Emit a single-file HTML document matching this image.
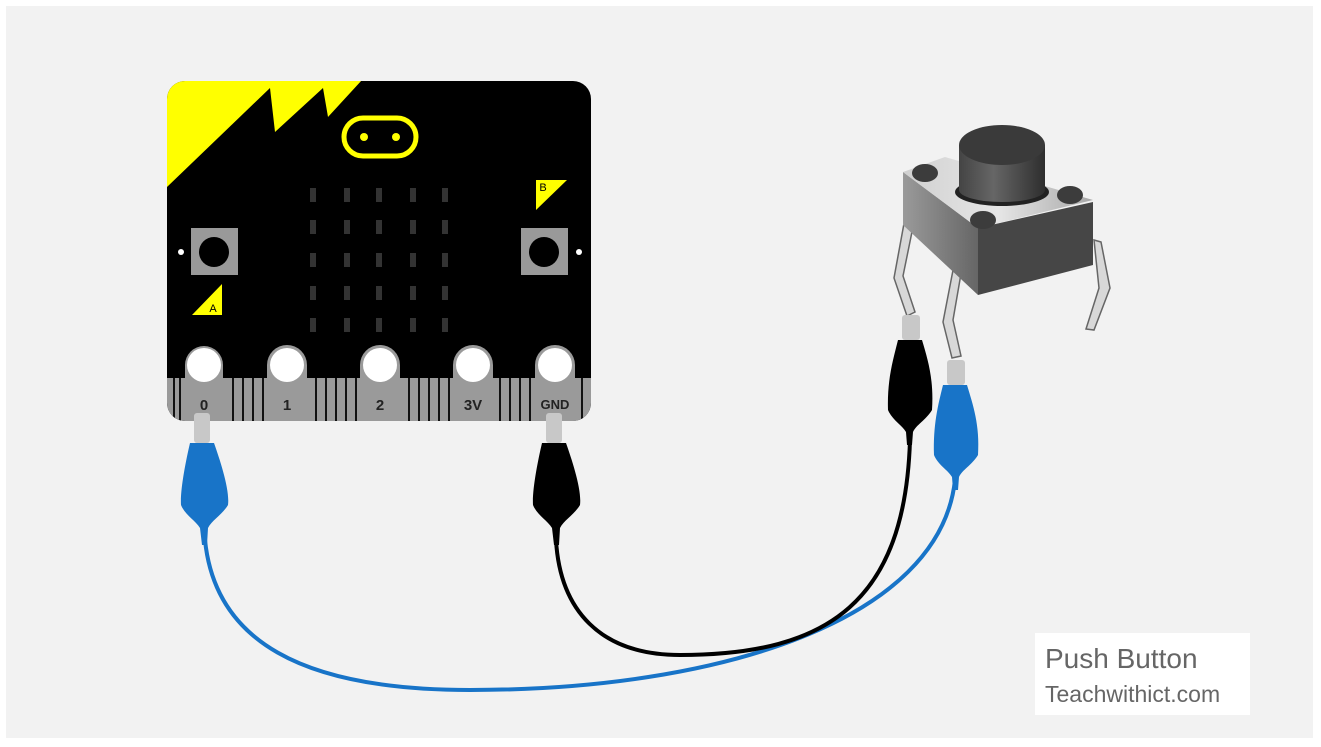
<!DOCTYPE html>
<html><head><meta charset="utf-8"><style>
html,body{margin:0;padding:0;background:#fff;}
svg{display:block;}
</style></head><body>
<svg width="1321" height="747" viewBox="0 0 1321 747" xmlns="http://www.w3.org/2000/svg" font-family="Liberation Sans, sans-serif">
<rect x="0" y="0" width="1321" height="747" fill="#fff"/>
<rect x="6" y="6" width="1307" height="732" fill="#f2f2f2"/>

<!-- wires -->
<path d="M205,540 C215,640 300,690 470,690 C720,690 940,620 955,480" fill="none" stroke="#1874c8" stroke-width="4"/>
<path d="M556,540 C560,610 600,655 680,655 C830,655 905,600 910,440" fill="none" stroke="#000" stroke-width="4"/>

<!-- micro:bit -->
<defs>
<clipPath id="board"><rect x="167" y="81" width="424" height="340" rx="18"/></clipPath>
</defs>
<rect x="167" y="81" width="424" height="340" rx="18" fill="#000"/>
<g clip-path="url(#board)">
<polygon points="167,187 270,88 275,132 323,88 328,117 362,80 167,80" fill="#ffff00"/>
<rect x="167" y="378" width="424" height="45" fill="#9a9a9a"/>
<g stroke="#111" stroke-width="2">
<line x1="174" y1="378" x2="174" y2="421"/><line x1="180" y1="378" x2="180" y2="421"/>
<line x1="233" y1="378" x2="233" y2="421"/><line x1="243" y1="378" x2="243" y2="421"/><line x1="253" y1="378" x2="253" y2="421"/><line x1="263" y1="378" x2="263" y2="421"/>
<line x1="316" y1="378" x2="316" y2="421"/><line x1="326" y1="378" x2="326" y2="421"/><line x1="336" y1="378" x2="336" y2="421"/><line x1="346" y1="378" x2="346" y2="421"/><line x1="356" y1="378" x2="356" y2="421"/>
<line x1="409" y1="378" x2="409" y2="421"/><line x1="419" y1="378" x2="419" y2="421"/><line x1="429" y1="378" x2="429" y2="421"/><line x1="439" y1="378" x2="439" y2="421"/><line x1="449" y1="378" x2="449" y2="421"/>
<line x1="500" y1="378" x2="500" y2="421"/><line x1="510" y1="378" x2="510" y2="421"/><line x1="520" y1="378" x2="520" y2="421"/><line x1="530" y1="378" x2="530" y2="421"/>
<line x1="582" y1="378" x2="582" y2="421"/>
</g>
<g fill="#9a9a9a">
<path d="M185,421 V365 a19,19 0 0 1 38,0 V421 Z"/>
<path d="M267,421 V365 a20,20 0 0 1 40,0 V421 Z"/>
<path d="M360,421 V365 a20,20 0 0 1 40,0 V421 Z"/>
<path d="M453,421 V365 a20,20 0 0 1 40,0 V421 Z"/>
<path d="M535,421 V365 a20,20 0 0 1 40,0 V421 Z"/>
</g>
</g>
<g fill="#fff">
<circle cx="204" cy="365" r="17"/><circle cx="287" cy="365" r="17"/><circle cx="380" cy="365" r="17"/><circle cx="473" cy="365" r="17"/><circle cx="555" cy="365" r="17"/>
</g>
<g font-weight="bold" font-size="15" fill="#222" text-anchor="middle">
<text x="204" y="410">0</text><text x="287" y="410">1</text><text x="380" y="410">2</text><text x="473" y="410">3V</text><text x="555" y="409" font-size="13">GND</text>
</g>
<!-- logo -->
<rect x="344" y="118" width="72" height="38" rx="19" fill="none" stroke="#ffff00" stroke-width="5"/>
<circle cx="364" cy="137" r="4" fill="#ffff00"/><circle cx="396" cy="137" r="4" fill="#ffff00"/>
<!-- LEDs -->
<g fill="#333">
<rect x="310" y="188" width="6" height="14"/><rect x="344" y="188" width="6" height="14"/><rect x="376" y="188" width="6" height="14"/><rect x="410" y="188" width="6" height="14"/><rect x="442" y="188" width="6" height="14"/>
<rect x="310" y="220" width="6" height="14"/><rect x="344" y="220" width="6" height="14"/><rect x="376" y="220" width="6" height="14"/><rect x="410" y="220" width="6" height="14"/><rect x="442" y="220" width="6" height="14"/>
<rect x="310" y="253" width="6" height="14"/><rect x="344" y="253" width="6" height="14"/><rect x="376" y="253" width="6" height="14"/><rect x="410" y="253" width="6" height="14"/><rect x="442" y="253" width="6" height="14"/>
<rect x="310" y="286" width="6" height="14"/><rect x="344" y="286" width="6" height="14"/><rect x="376" y="286" width="6" height="14"/><rect x="410" y="286" width="6" height="14"/><rect x="442" y="286" width="6" height="14"/>
<rect x="310" y="318" width="6" height="14"/><rect x="344" y="318" width="6" height="14"/><rect x="376" y="318" width="6" height="14"/><rect x="410" y="318" width="6" height="14"/><rect x="442" y="318" width="6" height="14"/>
</g>
<!-- buttons A/B -->
<rect x="191" y="228" width="47" height="47" fill="#999"/><circle cx="214" cy="252" r="15" fill="#000"/>
<rect x="521" y="228" width="47" height="47" fill="#999"/><circle cx="544" cy="252" r="15" fill="#000"/>
<circle cx="181" cy="252" r="3" fill="#fff"/><circle cx="579" cy="252" r="3" fill="#fff"/>
<polygon points="192,315 222,315 222,284" fill="#ffff00"/>
<text x="213" y="312" font-size="11" fill="#000" text-anchor="middle">A</text>
<polygon points="536,180 567,180 536,210" fill="#ffff00"/>
<text x="543" y="191" font-size="11" fill="#000" text-anchor="middle">B</text>

<!-- clips at micro:bit -->
<rect x="194" y="413" width="16" height="30" rx="3" fill="#c8c8c8"/>
<path d="M190,443 H214 C220,460 230,490 228,505 C222,515 212,520 208,528 L207,545 H202 L200,528 C195,520 185,515 181,505 C180,490 186,460 190,443 Z" fill="#1874c8"/>
<rect x="546" y="413" width="16" height="30" rx="3" fill="#c8c8c8"/>
<path d="M542,443 H566 C572,460 582,490 580,505 C574,515 564,520 560,528 L559,545 H554 L552,528 C547,520 537,515 533,505 C532,490 538,460 542,443 Z" fill="#000"/>

<!-- push button -->
<defs>
<linearGradient id="top" x1="0" y1="0" x2="1" y2="0"><stop offset="0" stop-color="#d0d0d0"/><stop offset="0.5" stop-color="#e6e6e6"/><stop offset="1" stop-color="#a8a8a8"/></linearGradient>
<linearGradient id="cyl" x1="0" y1="0" x2="1" y2="0"><stop offset="0" stop-color="#444"/><stop offset="0.4" stop-color="#666"/><stop offset="1" stop-color="#2e2e2e"/></linearGradient>
<linearGradient id="lf" x1="0" y1="0" x2="1" y2="0"><stop offset="0" stop-color="#9a9a9a"/><stop offset="1" stop-color="#666"/></linearGradient>
</defs>
<!-- legs -->
<g fill="#d8d8d8" stroke="#666" stroke-width="1.5">
<path d="M905,218 L914,222 L903,276 L915,312 L907,316 L894,278 Z"/>
<path d="M954,265 L962,268 L953,320 L961,356 L952,358 L943,322 Z"/>
<path d="M1094,240 L1101,242 L1110,288 L1094,330 L1086,329 L1099,288 Z"/>
</g>
<polygon points="903,225 978,295 978,228 903,172" fill="url(#lf)"/>
<polygon points="978,295 1093,265 1093,202 978,228" fill="#464646"/>
<polygon points="903,172 945,157 1093,200 978,228" fill="url(#top)"/>
<ellipse cx="925" cy="173" rx="13" ry="9" fill="#3c3c3c"/>
<ellipse cx="1070" cy="195" rx="13" ry="9" fill="#3c3c3c"/>
<ellipse cx="983" cy="220" rx="13" ry="9" fill="#3c3c3c"/>
<ellipse cx="1002" cy="192" rx="47" ry="14" fill="#222"/>
<path d="M959,145 V190 A43,12 0 0 0 1045,190 V145 Z" fill="url(#cyl)"/>
<ellipse cx="1002" cy="145" rx="43" ry="20" fill="#3a3a3a"/>

<!-- clips at button -->
<rect x="902" y="315" width="18" height="25" rx="3" fill="#c8c8c8"/>
<path d="M898,340 H922 C928,360 934,380 932,410 C926,420 916,425 913,432 L912,445 H907 L906,432 C902,425 892,420 888,410 C887,380 893,360 898,340 Z" fill="#000"/>
<rect x="947" y="360" width="18" height="25" rx="3" fill="#c8c8c8"/>
<path d="M943,385 H967 C973,405 980,425 978,455 C972,465 962,470 959,477 L958,490 H953 L952,477 C948,470 938,465 934,455 C933,425 938,405 943,385 Z" fill="#1874c8"/>

<!-- label -->
<rect x="1035" y="633" width="215" height="82" fill="#fff"/>
<text x="1045" y="668" font-size="28" fill="#666">Push Button</text>
<text x="1045" y="702" font-size="23" fill="#666">Teachwithict.com</text>
</svg>
</body></html>
